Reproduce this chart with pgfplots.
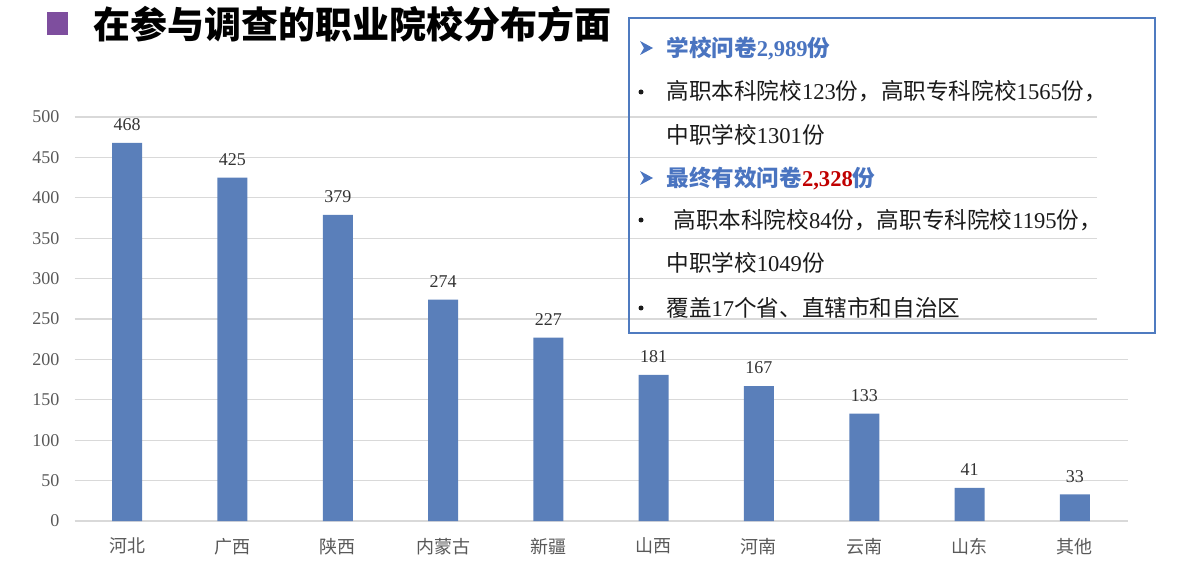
\documentclass[border=0pt]{standalone}
\usepackage{fontspec}
\setmainfont{Liberation Serif}
\newfontfamily\cjk{Noto Sans CJK SC}
\usepackage{pgfplots}
\pgfplotsset{compat=1.18}
\definecolor{barblue}{HTML}{5A7FBA}
\definecolor{gridgray}{HTML}{D9D9D9}
\definecolor{tickgray}{HTML}{595959}
\definecolor{titlepurple}{HTML}{7E4E9E}
\definecolor{boxblue}{HTML}{4F7BC0}
\definecolor{headblue}{HTML}{4A74C0}
\definecolor{darkred}{HTML}{C00000}
\definecolor{bodytext}{HTML}{1A1A1A}
\newcommand\C[1]{{\cjk #1}}
\begin{document}
\begin{tikzpicture}
\path (0,0) rectangle (591pt,-285.5pt);
\begin{axis}[
  at={(37.25pt,-260.5pt)}, anchor=south west,
  scale only axis, width=526.5pt, height=202pt,
  xmin=-0.5, xmax=9.5, ymin=0, ymax=500,
  ytick={0,50,...,500},
  xtick={0,...,9},
  xticklabels={河北,广西,陕西,内蒙古,新疆,山西,河南,云南,山东,其他},
  axis lines=left, axis line style={draw=none,-},
  major tick length=0pt,
  ymajorgrids, grid style={gridgray, line width=0.6pt},
  /pgf/number format/assume math mode=true,
  yticklabel style={font=\fontsize{9}{10}\selectfont, text=tickgray, xshift=-4pt},
  xticklabel style={font=\cjk\fontsize{9}{10}\selectfont, text=tickgray, yshift=-5pt},
  ybar, bar width=15pt,
  nodes near coords,
  nodes near coords style={font=\fontsize{9}{10}\selectfont, text=black!80, yshift=2.5pt},
  clip=false,
]
\addplot[fill=barblue, draw=none] coordinates {(0,468) (1,425) (2,379) (3,274) (4,227) (5,181) (6,167) (7,133) (8,41) (9,33)};
\end{axis}
% title
\fill[titlepurple] (23.5pt,-6pt) rectangle (34pt,-17.5pt);
\node[anchor=base west, inner sep=0pt, font=\cjk\bfseries\fontsize{18.5}{20}\selectfont] at (46.5pt,-19.5pt) {在参与调查的职业院校分布方面};
% text box
\fill[white] (548.5pt,-10pt) rectangle (576.5pt,-165.5pt);
\draw[boxblue, line width=1.2pt] (314.5pt,-9pt) rectangle (577.5pt,-166.5pt);
\fill[headblue] (326.5pt,-24pt) -- (320pt,-20.5pt) -- (322pt,-24pt) -- (320pt,-27.5pt) -- cycle;
\fill[headblue] (326.5pt,-89pt) -- (320pt,-85.5pt) -- (322pt,-89pt) -- (320pt,-92.5pt) -- cycle;
\fill[bodytext] (320.5pt,-46pt) circle (1.25pt);
\fill[bodytext] (320.5pt,-110pt) circle (1.25pt);
\fill[bodytext] (320.5pt,-154pt) circle (1.25pt);
\begin{scope}[every node/.style={anchor=base west, inner sep=0pt, font=\fontsize{11.3}{13}\selectfont, text=bodytext}]
\node[text=headblue, font=\bfseries\fontsize{11.3}{13}\selectfont] at (333pt,-28.3pt) {\C{学校问卷}2,989\C{份}};
\node at (333pt,-50pt) {\C{高职本科院校}123\C{份，高职专科院校}1565\C{份，}};
\node at (333pt,-71.8pt) {\C{中职学校}1301\C{份}};
\node[text=headblue, font=\bfseries\fontsize{11.3}{13}\selectfont] at (333pt,-93.3pt) {\C{最终有效问卷}\textcolor{darkred}{2,328}\C{份}};
\node at (336.5pt,-114.3pt) {\C{高职本科院校}84\C{份，高职专科院校}1195\C{份，}};
\node at (333pt,-135.8pt) {\C{中职学校}1049\C{份}};
\node at (333pt,-158.3pt) {\C{覆盖}17\C{个省、直辖市和自治区}};
\end{scope}
\end{tikzpicture}
\end{document}
